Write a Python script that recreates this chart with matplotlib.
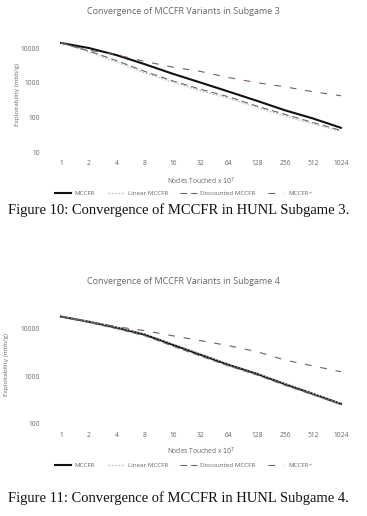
import matplotlib.pyplot as plt
import numpy as np

nodes = [1, 2, 4, 8, 16, 32, 64, 128, 256, 512, 1024]
series_names = ['MCCFR', 'Linear MCCFR', 'Discounted MCCFR', 'MCCFR+']

# Subgame 3
sg3_mccfr = [14000, 10000, 6200, 3400, 1800, 1000, 550, 300, 160, 93, 50]
sg3_linear = [14000, 7600, 3900, 1900, 1020, 580, 350, 190, 110, 65, 39]
sg3_discounted = [14000, 8200, 4300, 2100, 1120, 640, 390, 210, 122, 71, 42]
sg3_plus = [14000, 8700, 6300, 4100, 2800, 2100, 1400, 1000, 760, 550, 420]

# Subgame 4
sg4_mccfr = [18000, 14000, 10500, 7500, 4600, 2830, 1740, 1130, 690, 430, 265]
sg4_linear = [18000, 14300, 10800, 7800, 4800, 2950, 1800, 1170, 710, 440, 270]
sg4_discounted = [18000, 13500, 10000, 7100, 4300, 2650, 1650, 1070, 650, 410, 255]
sg4_plus = [18000, 14000, 11000, 9100, 7100, 5600, 4400, 3300, 2200, 1660, 1250]

styles = {
    'MCCFR': dict(color='#111111', lw=1.5, ls='-'),
    'Linear MCCFR': dict(color='#b8b8b8', lw=0.8, ls=(0, (1.5, 1.5))),
    'Discounted MCCFR': dict(color='#5f6b66', lw=0.8, ls=(0, (6, 3.5))),
    'MCCFR+': dict(color='#7a5a5a', lw=0.8, ls=(0, (6, 8))),
}

txt = '#666666'
plt.rcParams['font.family'] = ['Open Sans', 'DejaVu Sans']

fig = plt.figure(figsize=(3.67, 5.16), dpi=100)


def draw(rect, data, ylim, yticks, title, title_y, legend_y, caption, caption_y, ylab_x, xlab_y):
    ax = fig.add_axes(rect)
    xs = np.arange(len(nodes))
    for name, vals in zip(series_names, data):
        ax.plot(xs, vals, label=name, **styles[name])
    ax.set_yscale('log')
    ax.set_ylim(*ylim)
    ax.set_yticks(yticks)
    ax.set_yticklabels([str(t) for t in yticks])
    ax.minorticks_off()
    ax.set_xlim(-0.5, len(nodes) - 0.5)
    ax.set_xticks(xs)
    ax.set_xticklabels([str(n) for n in nodes])
    for s in ax.spines.values():
        s.set_visible(False)
    ax.tick_params(axis='both', length=0, labelsize=4.8, colors=txt)
    ax.tick_params(axis='x', pad=6)
    ax.tick_params(axis='y', pad=5)
    ax.set_ylabel('Exploitability (mbb/g)', fontsize=4.6, color=txt)
    ax.yaxis.set_label_coords(ylab_x, 0.5)
    ax.set_xlabel('Nodes Touched x $10^7$', fontsize=4.8, color=txt)
    ax.xaxis.set_label_coords(0.5, xlab_y)
    fig.text(0.5, title_y, title, ha='center', va='center', fontsize=6.5, color=txt)
    fig.legend(*ax.get_legend_handles_labels(), loc='center', bbox_to_anchor=(0.5, legend_y),
               ncol=4, frameon=False, fontsize=4.5, handlelength=2.6, columnspacing=2.0,
               handletextpad=0.6, labelcolor=txt)
    fig.text(0.022, caption_y, caption, ha='left', va='center', fontsize=10.5,
             family='Liberation Serif', color='#111111')
    return ax


draw([0.128, 1 - 152 / 516, 0.839, 114.4 / 516],
     [sg3_mccfr, sg3_linear, sg3_discounted, sg3_plus],
     (10, 20000), [10, 100, 1000, 10000],
     'Convergence of MCCFR Variants in Subgame 3', 1 - 12 / 516, 1 - 193 / 516,
     'Figure 10: Convergence of MCCFR in HUNL Subgame 3.', 1 - 210 / 516,
     -0.088, -0.21)

draw([0.128, 1 - 424 / 516, 0.839, 118 / 516],
     [sg4_mccfr, sg4_linear, sg4_discounted, sg4_plus],
     (100, 30000), [100, 1000, 10000],
     'Convergence of MCCFR Variants in Subgame 4', 1 - 282 / 516, 1 - 465 / 516,
     'Figure 11: Convergence of MCCFR in HUNL Subgame 4.', 1 - 498 / 516,
     -0.123, -0.186)

fig.savefig('out.png', dpi=100, facecolor='white')
